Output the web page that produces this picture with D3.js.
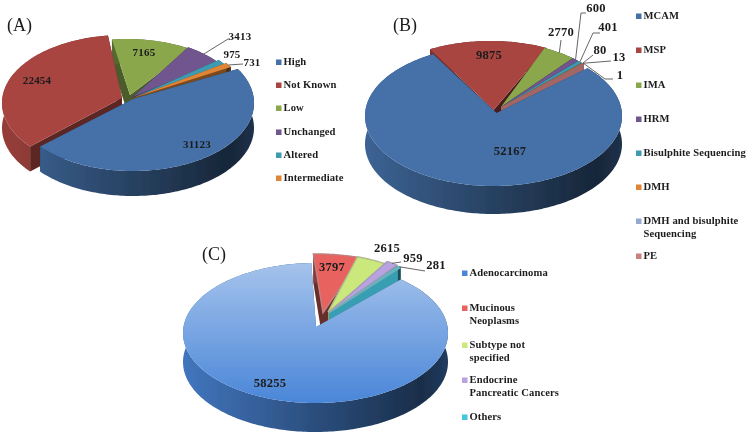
<!DOCTYPE html>
<html>
<head>
<meta charset="utf-8">
<script src="https://cdn.jsdelivr.net/npm/d3@7"></script>
<style>
  html, body { margin: 0; padding: 0; background: #fff; }
  svg { display: block; }
  text { font-family: "Liberation Serif", serif; fill: #1c1c1c; }
</style>
</head>
<body>
<div id="chart"></div>
<script>
// datos de los tres paneles
const categoriesA = ["High", "Not Known", "Low", "Unchanged", "Altered", "Intermediate"];
const valuesA = [31123, 22454, 7165, 3413, 975, 731];

const categoriesB = ["MCAM", "MSP", "IMA", "HRM", "Bisulphite Sequencing", "DMH", "DMH and bisulphite|Sequencing", "PE"];
const valuesB = [52167, 9875, 2770, 600, 401, 80, 13, 1];

const categoriesC = ["Adenocarcinoma", "Mucinous|Neoplasms", "Subtype not|specified", "Endocrine|Pancreatic Cancers", "Others"];
const valuesC = [58255, 3797, 2615, 959, 281];

const WIDTH = 746, HEIGHT = 436;
const TAU = Math.PI * 2;

const svg = d3.select('#chart').append('svg')
  .attr('width', WIDTH).attr('height', HEIGHT)
  .attr('viewBox', `0 0 ${WIDTH} ${HEIGHT}`);
const defs = svg.append('defs');

// la referencia es una imagen algo borrosa
defs.append('filter').attr('id', 'soft').append('feGaussianBlur').attr('stdDeviation', 0.45);
defs.append('filter').attr('id', 'softText').append('feGaussianBlur').attr('stdDeviation', 0.25);

let gradId = 0;

function hGradient(x0, x1, stops) {
  const id = 'g' + (gradId++);
  const g = defs.append('linearGradient').attr('id', id)
    .attr('gradientUnits', 'userSpaceOnUse')
    .attr('x1', x0).attr('x2', x1).attr('y1', 0).attr('y2', 0);
  stops.forEach(s => g.append('stop').attr('offset', s[0]).attr('stop-color', s[1]));
  return `url(#${id})`;
}

function vGradient(y0, y1, c0, c1) {
  const id = 'g' + (gradId++);
  const g = defs.append('linearGradient').attr('id', id)
    .attr('gradientUnits', 'userSpaceOnUse')
    .attr('x1', 0).attr('x2', 0).attr('y1', y0).attr('y2', y1);
  g.append('stop').attr('offset', 0).attr('stop-color', c0);
  g.append('stop').attr('offset', 1).attr('stop-color', c1);
  return `url(#${id})`;
}

// Tarta 3D: cara superior, borde exterior y caras de corte, de atras hacia delante.
// offsets[i] = [dx, dy del arco, dx, dy del vertice], la perspectiva no es una simple traslacion
function drawPie(cfg, values) {
  const g = svg.append('g').attr('filter', 'url(#soft)');
  const slices = d3.pie().sort(null)
    .startAngle(cfg.start).endAngle(cfg.start + TAU)(values);

  const line = d3.line();

  slices.forEach((s, i) => {
    s.color = cfg.colors[i];
    s.off = cfg.offsets[i];
    s.mid = (s.startAngle + s.endAngle) / 2;
    s.index = i;
  });

  const rimPoint = (s, a) => [
    cfg.cx + s.off[0] + cfg.rx * Math.sin(a),
    cfg.cy + s.off[1] - cfg.ry * Math.cos(a),
  ];
  const apex = s => [cfg.cx + s.off[2], cfg.cy + s.off[3]];

  const ordered = slices.slice().sort((a, b) => Math.cos(b.mid) - Math.cos(a.mid));

  ordered.forEach(s => {
    const n = Math.max(2, Math.ceil((s.endAngle - s.startAngle) / 0.02));
    const angles = d3.range(n + 1).map(k => s.startAngle + (s.endAngle - s.startAngle) * k / n);
    const outer = angles.map(a => rimPoint(s, a));
    const lowered = outer.map(p => [p[0], p[1] + cfg.depth]).reverse();
    const c = d3.rgb(s.color);
    const p0 = apex(s);
    const drop = p => [p[0], p[1] + cfg.depth];
    const faceColor = d3.interpolateRgb(c, '#000')(cfg.faceDark[s.index] ?? cfg.faceDark[0]);

    // caras de corte
    [outer[0], outer[n]].forEach(p => {
      g.append('path')
        .attr('d', line([p0, p, drop(p), drop(p0)]) + 'Z')
        .attr('fill', faceColor);
    });

    // borde exterior con degradado horizontal
    g.append('path')
      .attr('d', line(outer.concat(lowered)) + 'Z')
      .attr('fill', hGradient(cfg.cx - cfg.rx, cfg.cx + cfg.rx, [
        [0, d3.interpolateRgb(c, '#000')(0.12)],
        [0.9, d3.interpolateRgb(c, '#000')(0.66)],
        [1, d3.interpolateRgb(c, '#000')(0.56)],
      ]));

    // cara superior
    const top = cfg.topLight && s.index === 0
      ? vGradient(cfg.cy - cfg.ry, cfg.cy + cfg.ry, d3.interpolateRgb(c, '#fff')(cfg.topLight), c)
      : s.color;
    g.append('path')
      .attr('d', line([p0].concat(outer)) + 'Z')
      .attr('fill', top)
      .attr('stroke', cfg.bevel && s.index > 0 ? d3.interpolateRgb(c, '#999')(0.55) : 'none')
      .attr('stroke-width', 1.4);
  });

  // lineas guia: salen del borde del sector y pasan por el codo indicado
  const guides = svg.append('g').attr('filter', 'url(#softText)');
  (cfg.leaders || []).forEach(l => {
    const s = slices[l.slice];
    const from = rimPoint(s, s.mid);
    guides.append('path')
      .attr('d', line([from].concat(l.via)))
      .attr('fill', 'none').attr('stroke', '#555').attr('stroke-width', 0.9);
  });

  // numeros
  guides.selectAll('text.val').data(values).join('text')
    .attr('class', 'val')
    .attr('x', (d, i) => cfg.labels[i][0]).attr('y', (d, i) => cfg.labels[i][1])
    .attr('dy', '0.35em').attr('text-anchor', 'middle')
    .attr('font-size', cfg.labelSize)
    .attr('font-weight', 700)
    .attr('letter-spacing', cfg.labelSpacing)
    .text(d => d);

  // titulo del panel
  guides.append('text')
    .attr('x', cfg.title.x).attr('y', cfg.title.y).attr('font-size', 18)
    .text(cfg.title.text);

  // leyenda
  const leg = guides.selectAll('g.leg').data(cfg.categories).join('g').attr('class', 'leg');
  leg.append('rect')
    .attr('x', cfg.legend.x).attr('y', (d, i) => cfg.legend.ys[i] - 2.5)
    .attr('width', 5.5).attr('height', 5.5)
    .attr('fill', (d, i) => cfg.colors[i]);
  leg.each(function (d, i) {
    d.split('|').forEach((row, k) => {
      d3.select(this).append('text')
        .attr('x', cfg.legend.x + 7.5).attr('y', cfg.legend.ys[i] + k * 13)
        .attr('dy', '0.33em').attr('font-size', 10.6).attr('font-weight', 700)
        .attr('letter-spacing', '0.1px').attr('fill', '#2a2a2a')
        .text(row);
    });
  });
}

drawPie({
  cx: 133, cy: 103, rx: 121, ry: 68, depth: 25, faceDark: [0.45],
  start: 60 * Math.PI / 180,
  colors: ['#4470a8', '#a84541', '#8aa84b', '#70558f', '#3d9ab0', '#e08436'],
  offsets: [[0, 0, 0, -4], [-10, 0, -11, -5], [-6, 4, -3, -8], [-9, 2, 0, -6], [-8, 0, 0, -5], [-7, -2, 0, -5]],
  labels: [[197, 144], [37, 80], [144, 52], [240, 36], [232, 54], [252, 62]],
  labelSize: 11,
  labelSpacing: '0.2px',
  leaders: [
    { slice: 3, via: [[228, 39], [229, 39]] },
    { slice: 5, via: [[243, 64]] },
  ],
  title: { x: 7, y: 31, text: '(A)' },
  categories: categoriesA,
  legend: { x: 276, ys: [62, 85, 108, 132, 155, 178] },
}, valuesA);

drawPie({
  cx: 493.5, cy: 116, rx: 128.5, ry: 70, depth: 28,
  faceDark: [0.45, 0.55, 0.45, 0.45, 0.45, 0.45, 0.45, 0.2],
  start: 47 * Math.PI / 180,
  colors: ['#4470a8', '#a84541', '#8aa84b', '#70558f', '#3d9ab0', '#e08436', '#93a9cf', '#c9807e'],
  offsets: [[0, 0, 3, -3], [-3, -5, 0, -6], [-5, -5, 7.5, -9], [-5, -5, 7.5, -9], [-5, -5, 7.5, -9], [-4, -5, 7.5, -9], [-4, -5, 7.5, -9], [-4, -5, 7.5, -9]],
  labels: [[510, 151], [489, 55], [561, 32], [596, 8], [608, 27], [600, 50], [619, 57], [620, 75]],
  labelSize: 12.6,
  labelSpacing: '0.2px',
  leaders: [
    { slice: 2, via: [[561, 40]] },
    { slice: 3, via: [[581, 13], [586, 13]] },
    { slice: 4, via: [[593, 33], [600, 33]] },
    { slice: 5, via: [[593, 55]] },
    { slice: 6, via: [[611, 61]] },
    { slice: 7, via: [[605, 79], [613, 79]] },
  ],
  title: { x: 393, y: 31, text: '(B)' },
  categories: categoriesB,
  legend: { x: 636, ys: [16, 50, 85, 119, 153, 187, 221, 256] },
}, valuesB);

drawPie({
  cx: 315.5, cy: 333, rx: 132.5, ry: 70, depth: 29,
  faceDark: [0.3, 0.55, 0.3, 0.3, 0.2],
  start: 40 * Math.PI / 180,
  colors: ['#4a86d8', '#e8645f', '#cbe87c', '#b9a2e2', '#45c6de'],
  offsets: [[0, 0, 0.5, -6], [2, -9, 7.5, -20], [-1, -10, 12.5, -21], [-1, -13, 13.5, -20], [0, -12, 13.5, -20]],
  topLight: 0.5,
  bevel: true,
  labels: [[270, 383], [332, 267], [387, 248], [413, 258], [436, 265]],
  labelSize: 12.6,
  labelSpacing: '0.2px',
  leaders: [
    { slice: 3, via: [[401, 262]] },
    { slice: 4, via: [[425, 271]] },
  ],
  title: { x: 202, y: 260, text: '(C)' },
  categories: categoriesC,
  legend: { x: 462, ys: [273, 308, 345, 380, 417] },
}, valuesC);
</script>
</body>
</html>
